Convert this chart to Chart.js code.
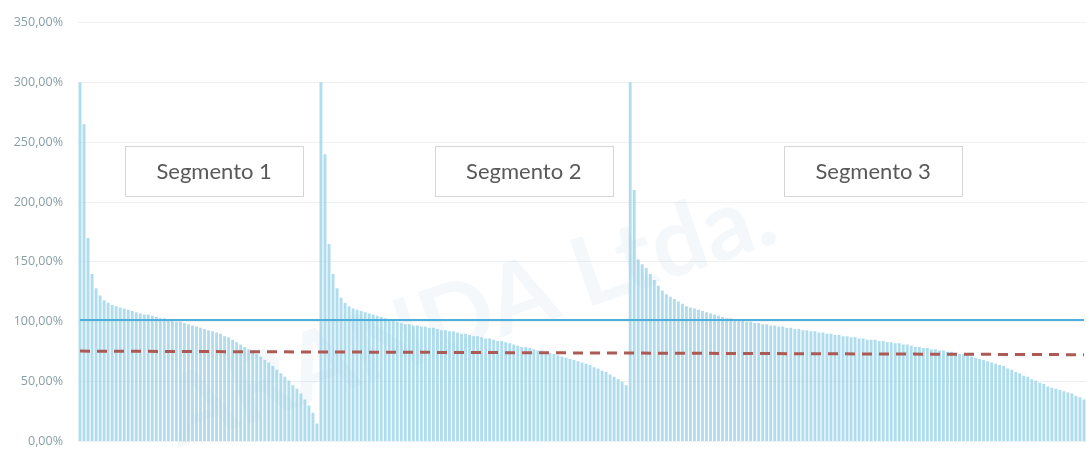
<!DOCTYPE html>
<html>
<head>
<meta charset="utf-8">
<script src="https://cdn.jsdelivr.net/npm/chart.js@4.4.1/dist/chart.umd.min.js"></script>
<style>
  html, body { margin: 0; padding: 0; background: #ffffff; overflow: hidden; }
  #wrap { width: 1086px; height: 464px; position: relative; }
</style>
</head>
<body>
<div id="wrap"><canvas id="chart"></canvas></div>
<script>
// valores por segmento (%), ordenados de mayor a menor
const segmento1 = [
    300, 265, 170, 140, 128, 122, 118, 116, 114, 113,
    112, 111, 110, 109, 108, 107, 106, 106, 105, 104,
    103, 103, 102, 101, 100, 100, 99, 98, 97, 96,
    95, 94, 93, 92, 91, 90, 88, 87, 85, 83,
    81, 79, 77, 75, 73, 71, 68, 66, 63, 60,
    57, 54, 51, 47, 44, 40, 35, 30, 24, 15
];
const segmento2 = [
    300, 240, 165, 140, 128, 120, 116, 113, 111, 110,
    109, 108, 107, 106, 105, 104, 103, 102, 101, 100,
    99, 98, 98, 97, 97, 96, 96, 95, 95, 94,
    93, 93, 92, 92, 91, 90, 90, 89, 88, 88,
    87, 86, 86, 85, 84, 84, 83, 82, 81, 80,
    79, 79, 78, 77, 76, 76, 75, 74, 73, 72,
    71, 70, 69, 68, 67, 66, 65, 64, 62, 61,
    59, 58, 56, 54, 52, 50, 47
];
const segmento3 = [
    300, 210, 152, 148, 145, 140, 135, 130, 126, 123,
    121, 119, 117, 115, 113, 112, 111, 110, 109, 108,
    107, 106, 105, 104, 103, 103, 102, 101, 101, 100,
    100, 99, 99, 98, 98, 97, 97, 96, 96, 95,
    95, 94, 94, 93, 93, 92, 92, 91, 91, 90,
    90, 89, 89, 88, 88, 87, 87, 86, 86, 85,
    85, 85, 84, 84, 83, 83, 82, 82, 81, 81,
    80, 79, 79, 78, 78, 77, 77, 76, 76, 75,
    75, 74, 73, 73, 72, 71, 70, 69, 68, 67,
    66, 65, 64, 63, 61, 60, 58, 57, 55, 54,
    52, 51, 49, 48, 46, 45, 44, 43, 42, 41,
    40, 38, 37, 35
];
const lineaMeta = 101.5;           // linea azul continua
const lineaMediaInicio = 75.5;     // linea roja punteada (extremo izquierdo)
const lineaMediaFin = 72.5;        // linea roja punteada (extremo derecho)
const yTickLabels = ["0,00%", "50,00%", "100,00%", "150,00%", "200,00%", "250,00%", "300,00%", "350,00%"];
const segmentNames = ["Segmento 1", "Segmento 2", "Segmento 3"];

// posiciones de los cuadros de texto (indice de categoria, valor y)
const boxAnchors = [
    { index: 33.4, y: 226 },
    { index: 110.5, y: 226 },
    { index: 197.5, y: 226 }
];

const valores = segmento1.concat(segmento2, segmento3);
const categorias = valores.map((v, i) => String(i + 1));

const metaData = valores.map(() => lineaMeta);
const mediaData = valores.map(() => null);
mediaData[0] = lineaMediaInicio;
mediaData[mediaData.length - 1] = lineaMediaFin;

const watermark = {
    id: "watermark",
    beforeDatasetsDraw(chart) {
        const ctx = chart.ctx;
        ctx.save();
        ctx.translate(470, 315);
        ctx.rotate(-0.33);
        ctx.font = "bold 96px Lato";
        ctx.fillStyle = "rgba(120, 160, 190, 0.08)";
        ctx.textAlign = "center";
        ctx.textBaseline = "middle";
        ctx.fillText("ARANDA Ltda.", 0, 0);
        ctx.restore();
    }
};

const segmentBoxes = {
    id: "segmentBoxes",
    afterDatasetsDraw(chart) {
        const ctx = chart.ctx;
        const xs = chart.scales.x;
        const ys = chart.scales.y;
        ctx.save();
        segmentNames.forEach((name, i) => {
            const cx = xs.getPixelForValue(boxAnchors[i].index);
            const cy = ys.getPixelForValue(boxAnchors[i].y);
            const w = 178, h = 50;
            ctx.fillStyle = "#ffffff";
            ctx.fillRect(cx - w / 2, cy - h / 2, w, h);
            ctx.strokeStyle = "#d6d6d6";
            ctx.lineWidth = 1;
            ctx.strokeRect(Math.round(cx - w / 2) + 0.5, Math.round(cy - h / 2) + 0.5, w, h);
            ctx.fillStyle = "#595959";
            ctx.font = "22px Lato";
            ctx.textAlign = "center";
            ctx.textBaseline = "middle";
            ctx.fillText(name, cx, cy + 1);
        });
        ctx.restore();
    }
};

const ctx = document.getElementById("chart").getContext("2d");

new Chart(ctx, {
    type: "bar",
    data: {
        labels: categorias,
        datasets: [
            {
                type: "line",
                data: mediaData,
                borderColor: "#ad5a55",
                borderWidth: 3,
                borderDash: [10, 7],
                pointRadius: 0,
                spanGaps: true,
                order: 0
            },
            {
                type: "line",
                data: metaData,
                borderColor: "#4cb0da",
                borderWidth: 2,
                pointRadius: 0,
                order: 1
            },
            {
                data: valores,
                backgroundColor: "rgba(150, 210, 232, 0.75)",
                barPercentage: 0.72,
                categoryPercentage: 1,
                order: 2
            }
        ]
    },
    options: {
        responsive: true,
        maintainAspectRatio: false,
        animation: false,
        layout: { padding: { top: 17.5, bottom: 0, left: 0, right: 0 } },
        plugins: {
            legend: { display: false },
            tooltip: { enabled: false }
        },
        scales: {
            x: {
                display: false
            },
            y: {
                min: 0,
                max: 350,
                afterFit(scale) { scale.width = 78; },
                border: { display: false },
                grid: { color: "#eef1f3", drawTicks: false },
                ticks: {
                    stepSize: 50,
                    padding: 15,
                    color: "#86a0a6",
                    font: { family: "Open Sans", size: 12.5 },
                    callback: (v) => yTickLabels[v / 50]
                }
            }
        }
    },
    plugins: [watermark, segmentBoxes]
});
</script>
</body>
</html>
